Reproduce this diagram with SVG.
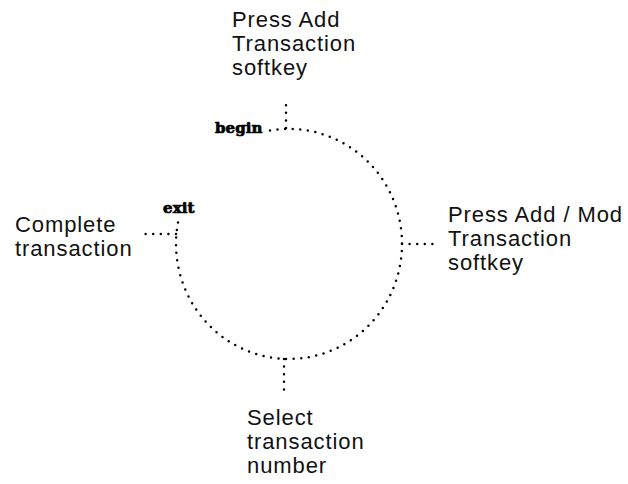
<svg xmlns="http://www.w3.org/2000/svg" width="628" height="484" viewBox="0 0 628 484">
  <style>
    .lbl { font-family: "Liberation Sans", Arial, sans-serif; font-size: 22px; letter-spacing: 0.9px; fill: #111; }
    .tag { font-family: "DejaVu Serif", "Liberation Serif", serif; font-weight: 900; font-size: 15px; letter-spacing: 0.1px; fill: #000; stroke: #000; stroke-width: 0.7px; }
    .dots { fill: none; stroke: #000; stroke-width: 2.5; stroke-linecap: round; stroke-dasharray: 0 7.6; }
  </style>
  <rect width="628" height="484" fill="#fff"/>

  <!-- dotted cycle and leader lines -->
  <g id="connectors">
    <path class="dots" d="M 270 130.6 A 113 115 0 1 1 178.5 220"/>
    <path class="dots" d="M 286 128 V 104"/>
    <path class="dots" d="M 402 244 H 433"/>
    <path class="dots" d="M 284 359 V 390"/>
    <path class="dots" d="M 176 234 H 143"/>
  </g>

  <g id="begin">
    <text class="tag" x="215" y="133">begin</text>
  </g>
  <g id="exit">
    <text class="tag" x="163" y="213">exit</text>
  </g>

  <g id="press-add">
    <text class="lbl" x="232" y="27">Press Add</text>
    <text class="lbl" x="232" y="51">Transaction</text>
    <text class="lbl" x="232" y="75">softkey</text>
  </g>

  <g id="press-add-mod">
    <text class="lbl" x="448" y="222">Press Add / Mod</text>
    <text class="lbl" x="448" y="246">Transaction</text>
    <text class="lbl" x="448" y="270">softkey</text>
  </g>

  <g id="select-number">
    <text class="lbl" x="247" y="425">Select</text>
    <text class="lbl" x="247" y="449">transaction</text>
    <text class="lbl" x="247" y="473">number</text>
  </g>

  <g id="complete">
    <text class="lbl" x="15" y="232">Complete</text>
    <text class="lbl" x="15" y="256">transaction</text>
  </g>
</svg>
